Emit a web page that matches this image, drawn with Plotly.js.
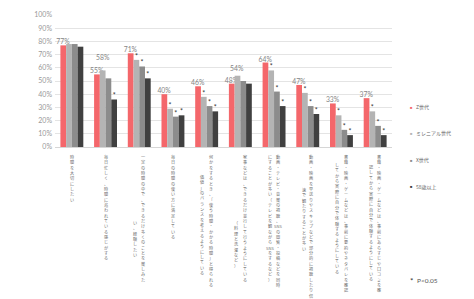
<!DOCTYPE html>
<html><head><meta charset="utf-8">
<script src="https://cdn.plot.ly/plotly-3.0.1.min.js"></script>
<style>html,body{margin:0;padding:0;background:#fff}</style>
</head><body><div id="chart" style="width:474px;height:299px"></div>
<script>
// ---- data ----
const categories = [
  "時間を大切にしたい",
  "毎日忙しく、時間に追われている感じがする",
  "一定の時間の中で、できるだけ多くのことを楽しみたい、経験したい",
  "毎日の時間の使い方に満足している",
  "何かをするとき、「使う時間・かかる時間」と得られる価値」のバランスを考えるようにしている",
  "家事などは、できるだけ並行して行うようにしている（料理と洗濯など）",
  "動画・テレビ・音楽の視聴、SNSの閲覧・投稿などを同時にすることが多い（テレビを観ながらSNSをするなど）",
  "動画・映画を早送りやスキップなどで部分的に視聴したり倍速で観たりすることが多い",
  "書籍・映画・ゲームなどは、事前に要約やネタバレを確認してから実際に自分で体験するようにしている",
  "書籍・映画・ゲームなどは、事前にあらすじや口コミを確認してから実際に自分で体験するようにしている"
];
const categoryColumns = [
  ["時間を大切にしたい"],
  ["毎日忙しく、時間に追われている感じがする"],
  ["一定の時間の中で、できるだけ多くのことを楽しみた", "い、経験したい"],
  ["毎日の時間の使い方に満足している"],
  ["何かをするとき、「使う時間・かかる時間」と得られる", "価値」のバランスを考えるようにしている"],
  ["家事などは、できるだけ並行して行うようにしている", "（料理と洗濯など）"],
  ["動画・テレビ・音楽の視聴、SNSの閲覧・投稿などを同時", "にすることが多い（テレビを観ながらSNSをするなど）"],
  ["動画・映画を早送りやスキップなどで部分的に視聴したり倍", "速で観たりすることが多い"],
  ["書籍・映画・ゲームなどは、事前に要約やネタバレを確認", "してから実際に自分で体験するようにしている"],
  ["書籍・映画・ゲームなどは、事前にあらすじや口コミを確", "認してから実際に自分で体験するようにしている"]
];
const seriesNames = ["Z世代", "ミレニアル世代", "X世代", "58歳以上"];
const zValues          = [77, 55, 71, 40, 46, 48, 64, 47, 33, 37];
const millennialValues = [78, 58, 66, 29, 38, 54, 58, 41, 24, 27];
const xValues          = [78, 52, 61, 23, 31, 50, 42, 31, 13, 16];
const seniorValues     = [76, 36, 52, 24, 27, 48, 31, 25,  9,  9];
const millennialSig    = [0, 0, 1, 1, 1, 0, 1, 1, 1, 1];
const xSig             = [0, 0, 1, 1, 1, 0, 1, 1, 1, 1];
const seniorSig        = [0, 1, 1, 1, 1, 0, 1, 1, 1, 1];
const millennialShowValue = [0, 1, 0, 0, 0, 1, 0, 0, 0, 0];
const yTickVals = [0, 10, 20, 30, 40, 50, 60, 70, 80, 90, 100];
const yTickText = yTickVals.map(v => v + "%");
const sigMark = "*";
const sigNote = "P&lt;0.05";

// ---- styles ----
const colors = ["#F4676B", "#B4B4B4", "#8C8C8C", "#404040"];
const labelGray = "#858585";
const starColor = "#333333";
const jp = "'Noto Sans CJK JP', 'Noto Sans', sans-serif";
const lat = "Lato, 'Noto Sans', sans-serif";
const labelSize = 6.8;

function makeText(vals, sig, showVal) {
  return vals.map((v, i) => showVal && showVal[i] ? v + "%" : (sig && sig[i] ? sigMark : ""));
}
function makeFont(vals, sig, showVal) {
  return {
    family: vals.map(() => lat),
    size: vals.map((v, i) => showVal && showVal[i] ? labelSize : 7),
    color: vals.map((v, i) => showVal && showVal[i] ? labelGray : starColor)
  };
}
const idx = categories.map((c, i) => i);
const allVals = [zValues, millennialValues, xValues, seniorValues];
const allSig = [null, millennialSig, xSig, seniorSig];
const allShow = [zValues.map(() => 1), null, null, null];

const traces = allVals.map((vals, k) => ({
  type: "bar",
  name: seriesNames[k],
  x: idx,
  y: vals,
  marker: { color: colors[k] },
  text: makeText(vals, allSig[k], allShow[k]),
  textposition: "outside",
  outsidetextfont: makeFont(vals, allSig[k], allShow[k]),
  constraintext: "none",
  cliponaxis: false,
  hoverinfo: "none"
}));

// geometry helpers (pixel -> paper)
const L = 55, R = 82, T = 15, B = 152, W = 474, H = 299;
const pw = W - L - R, ph = H - T - B;
const px = x => (x - L) / pw;
const py = y => (H - B - y) / ph;

function vertical(s) {
  const parts = s.match(/[A-Za-z0-9]+|./gu);
  return parts.join("<br>");
}

const annotations = [];
// millennial value labels (nudged above bar like the reference)
const bargap = 0.32, nSeries = 4;
const barW = (1 - bargap) / nSeries;
const milOffset = -(1 - bargap) / 2 + barW * 1.5;
millennialValues.forEach((v, i) => {
  if (!millennialShowValue[i]) return;
  const lift = (zValues[i] > v - 6) ? 8.5 : 3;
  annotations.push({
    xref: "x", yref: "y", x: i + milOffset, y: v,
    xanchor: "center", yanchor: "bottom", yshift: lift, showarrow: false,
    text: v + "%", font: { family: lat, size: labelSize, color: labelGray },
    borderpad: 0
  });
});
// category labels (vertical)
const col2Start = [0, 0, 218, 0, 172, 218, 152, 185, 160, 162];
categoryColumns.forEach((cols, i) => {
  cols.forEach((txt, j) => {
    const two = cols.length > 1;
    annotations.push({
      xref: "x", yref: "paper", x: i, y: py(j === 0 ? 152 : col2Start[i]),
      xanchor: "center", yanchor: "top",
      xshift: two ? (j === 0 ? 4.2 : -4.2) : 0,
      text: vertical(txt), showarrow: false, align: "center",
      font: { family: jp, size: 4.1, color: "#6a6a6a" }
    });
  });
});
// legend
const legendY = [107, 133, 160, 186];
seriesNames.forEach((n, k) => {
  annotations.push({
    xref: "paper", yref: "paper", x: px(411), y: py(legendY[k]),
    xanchor: "center", yanchor: "middle", showarrow: false,
    text: "■", font: { family: lat, size: 4, color: colors[k] }
  });
  annotations.push({
    xref: "paper", yref: "paper", x: px(414), y: py(legendY[k]),
    xanchor: "left", yanchor: "middle", showarrow: false,
    text: n, font: { family: jp, size: 5, color: "#666" }
  });
});
annotations.push({
  xref: "paper", yref: "paper", x: px(411), y: py(281),
  xanchor: "center", yanchor: "middle", showarrow: false,
  text: sigMark, font: { family: lat, size: 8, color: starColor }
});
annotations.push({
  xref: "paper", yref: "paper", x: px(415), y: py(280),
  xanchor: "left", yanchor: "middle", showarrow: false,
  text: sigNote, font: { family: lat, size: 6.5, color: "#555" }
});

const layout = {
  width: W, height: H,
  margin: { l: L, r: R, t: T, b: B, pad: 0 },
  paper_bgcolor: "#fff", plot_bgcolor: "#fff",
  barmode: "group", bargap: bargap, bargroupgap: 0,
  showlegend: false,
  xaxis: { type: "linear", range: [-0.5, 9.5], showticklabels: false, showgrid: false, zeroline: false, showline: false, ticks: "", fixedrange: true },
  yaxis: {
    range: [0, 100], tickvals: yTickVals, ticktext: yTickText,
    tickfont: { family: lat, size: 7, color: "#999" },
    showgrid: true, gridcolor: "#E4E4E4", gridwidth: 1,
    zeroline: true, zerolinecolor: "#D6D6D6", zerolinewidth: 1,
    showline: false, ticks: "", ticklabelstandoff: 2
  },
  annotations: annotations
};

Plotly.newPlot("chart", traces, layout, { displayModeBar: false, staticPlot: true });
</script>
</body></html>
